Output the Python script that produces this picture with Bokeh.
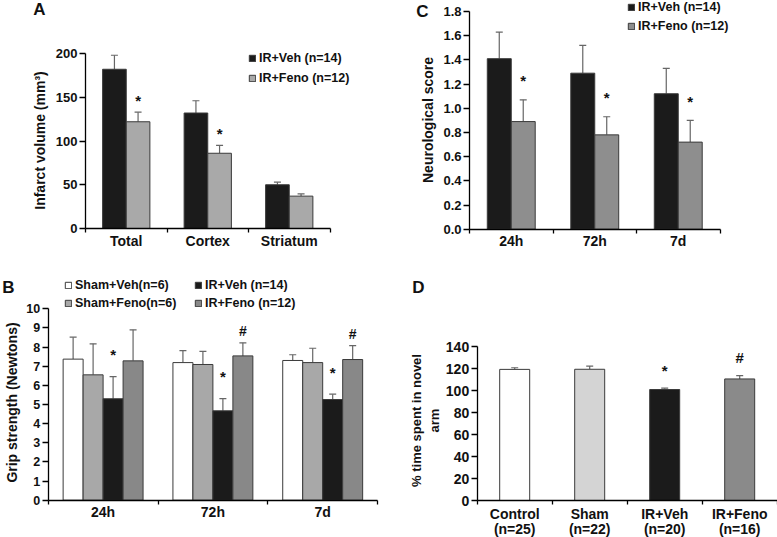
import math
import numpy as np
from bokeh.plotting import figure
from bokeh.models import (Range1d, FixedTicker, Whisker, TeeHead, ColumnDataSource,
                          Legend, LegendItem, Label, NumeralTickFormatter)
from bokeh.layouts import row, column
from bokeh.embed import file_html
from bokeh.resources import INLINE
from bokeh.core.properties import value

FONT = "Liberation Sans"
INK = "#111111"
EDGE = "#3a3a3a"
ERR = "#666666"

# ---------------- data ----------------
# Panel A : infarct volume
a_cats = ["Total", "Cortex", "Striatum"]
a_yticks = [0, 50, 100, 150, 200]
a_veh = [182, 132, 50]
a_veh_err = [16, 14, 3]
a_feno = [122, 86, 37]
a_feno_err = [11, 9, 2.5]
a_feno_sig = ["*", "*", ""]

# Panel C : neurological score
c_cats = ["24h", "72h", "7d"]
c_yticks = [0.0, 0.2, 0.4, 0.6, 0.8, 1.0, 1.2, 1.4, 1.6, 1.8]
c_veh = [1.41, 1.29, 1.12]
c_veh_err = [0.22, 0.23, 0.21]
c_feno = [0.89, 0.78, 0.72]
c_feno_err = [0.18, 0.15, 0.18]
c_feno_sig = ["*", "*", "*"]

# Panel B : grip strength
b_cats = ["24h", "72h", "7d"]
b_yticks = [0, 1, 2, 3, 4, 5, 6, 7, 8, 9, 10]
b_sham_veh = [7.37, 7.19, 7.30]
b_sham_veh_err = [1.15, 0.63, 0.30]
b_sham_feno = [6.55, 7.09, 7.19]
b_sham_feno_err = [1.62, 0.69, 0.75]
b_ir_veh = [5.30, 4.67, 5.26]
b_ir_veh_err = [1.16, 0.64, 0.28]
b_ir_feno = [7.28, 7.54, 7.35]
b_ir_feno_err = [1.62, 0.68, 0.73]
b_ir_veh_sig = ["*", "*", "*"]
b_ir_feno_sig = ["", "#", "#"]

# Panel D : % time in novel arm
d_cats = ["Control\n(n=25)", "Sham\n(n=22)", "IR+Veh\n(n=20)", "IR+Feno\n(n=16)"]
d_yticks = [0, 20, 40, 60, 80, 100, 120, 140]
d_vals = [119.2, 119.3, 100.9, 110.5]
d_err = [1.5, 2.9, 1.2, 3.0]
d_sig = ["", "", "*", "#"]
d_colors = ["#ffffff", "#d4d4d4", "#1b1b1b", "#8a8a8a"]


# ---------------- helpers ----------------
def make_fig(w, h, x0, xppu, y0, yppu):
    """x0: pixel of x=0 from the left, y0: pixel of y=0 from the top."""
    xr = Range1d(-x0 / xppu, (w - x0) / xppu)
    yb = h - y0
    yr = Range1d(-yb / yppu, (h - yb) / yppu)
    p = figure(width=w, height=h, x_range=xr, y_range=yr,
               output_backend="svg", toolbar_location=None,
               min_border_left=0, min_border_right=0, min_border_top=0, min_border_bottom=0)
    p.title.visible = False
    p.grid.visible = False
    p.outline_line_color = None
    p.background_fill_color = "white"
    p.border_fill_color = "white"
    return p


def add_bars(p, xs, vals, errs, width, color):
    src = ColumnDataSource(dict(x=list(xs), top=list(vals),
                                upper=[v + e for v, e in zip(vals, errs)]))
    r = p.vbar(x="x", top="top", bottom=0, width=width, source=src,
               fill_color=color, line_color=EDGE, line_width=1)
    w = Whisker(base="x", lower="top", upper="upper", source=src, dimension="height",
                line_color=ERR, line_width=1.2, lower_head=None,
                upper_head=TeeHead(size=7, line_color=ERR, line_width=1.2))
    p.add_layout(w)
    return r


def add_sig(p, xs, vals, errs, marks, y_off, size="15px"):
    src = ColumnDataSource(dict(x=list(xs), y=[v + e for v, e in zip(vals, errs)], t=marks))
    p.text(x="x", y="y", text="t", source=src, text_align="center",
           text_baseline="alphabetic", y_offset=y_off, text_font=value(FONT),
           text_font_style="bold", text_font_size=size, text_color=INK)


def style_axes(p, cats, n_slots, yticks, tick_size, cat_size, x_standoff, fmt=None,
               line_height=1.2):
    centers = np.arange(len(cats)) + 0.5
    xa = p.xaxis[0]
    xa.fixed_location = 0
    xa.ticker = FixedTicker(ticks=[float(c) for c in centers],
                            minor_ticks=[float(i) for i in range(n_slots + 1)])
    xa.major_label_overrides = {float(c): lab for c, lab in zip(centers, cats)}
    xa.major_tick_line_color = None
    xa.major_tick_in = 0
    xa.major_tick_out = 0
    xa.minor_tick_in = 0
    xa.minor_tick_out = 4
    xa.minor_tick_line_color = "black"
    xa.minor_tick_line_width = 1.3
    xa.bounds = (0, n_slots)
    xa.major_label_standoff = x_standoff
    xa.major_label_text_font_size = cat_size
    xa.major_label_text_line_height = line_height
    ya = p.yaxis[0]
    ya.fixed_location = 0
    ya.ticker = FixedTicker(ticks=yticks)
    ya.bounds = (yticks[0], yticks[-1])
    ya.major_tick_in = 0
    ya.major_tick_out = 6
    ya.minor_tick_line_color = None
    ya.major_tick_line_color = "black"
    ya.major_tick_line_width = 1.3
    ya.major_label_standoff = 2
    ya.major_label_text_font_size = tick_size
    if fmt:
        ya.formatter = NumeralTickFormatter(format=fmt)
    for ax in (xa, ya):
        ax.axis_line_color = "black"
        ax.axis_line_width = 1.3
        ax.major_label_text_font = FONT
        ax.major_label_text_font_style = "bold"
        ax.major_label_text_color = INK


def add_legend(p, items, loc, spacing):
    leg = Legend(items=[LegendItem(label=lab, renderers=[r]) for lab, r in items],
                 location=loc, orientation="vertical", border_line_color=None,
                 background_fill_alpha=0, padding=0, margin=0, spacing=spacing,
                 glyph_width=8, glyph_height=8, label_standoff=3, label_height=16,
                 label_text_font=FONT, label_text_font_style="bold",
                 label_text_font_size="12.5px", label_text_color=INK)
    p.add_layout(leg)


def screen_text(p, txt, x, y, size, angle=0.0):
    p.add_layout(Label(x=x, y=y, x_units="screen", y_units="screen", text=txt, angle=angle,
                       text_font=FONT, text_font_style="bold", text_font_size=size,
                       text_color=INK, text_align="center", text_baseline="middle",
                       text_line_height=1.15))


VERT = math.pi / 2

# ---------------- Panel A ----------------
pA = make_fig(390, 256, 85, 81.5, 228, 0.875)
cA = np.arange(len(a_cats)) + 0.5
bwA = 0.29
rA1 = add_bars(pA, cA - bwA / 2, a_veh, a_veh_err, bwA, "#1b1b1b")
rA2 = add_bars(pA, cA + bwA / 2, a_feno, a_feno_err, bwA, "#a9a9a9")
add_sig(pA, cA + bwA / 2, a_feno, a_feno_err, a_feno_sig, -12)
style_axes(pA, a_cats, 3, a_yticks, "13px", "14px", 0)
add_legend(pA, [("IR+Veh (n=14)", rA1), ("IR+Feno (n=12)", rA2)], (248, 170), 4)
screen_text(pA, "A", 39, 247, "17px")
screen_text(pA, "Infarct volume (mm³)", 39, 116, "14px", VERT)

# ---------------- Panel C ----------------
pC = make_fig(387, 256, 79, 83.5, 228.7, 120.94)
cC = np.arange(len(c_cats)) + 0.5
bwC = 0.287
rC1 = add_bars(pC, cC - bwC / 2, c_veh, c_veh_err, bwC, "#1b1b1b")
rC2 = add_bars(pC, cC + bwC / 2, c_feno, c_feno_err, bwC, "#8e8e8e")
add_sig(pC, cC + bwC / 2, c_feno, c_feno_err, c_feno_sig, -19)
style_axes(pC, c_cats, 3, c_yticks, "13px", "14px", 0, fmt="0.0")
add_legend(pC, [("IR+Veh (n=14)", rC1), ("IR+Feno (n=12)", rC2)], (237, 222), 3)
screen_text(pC, "C", 32, 245, "17px")
screen_text(pC, "Neurological score", 37, 136.5, "14px", VERT)

# ---------------- Panel B ----------------
pB = make_fig(390, 281, 47.7, 109.8, 243.7, 19.14)
cB = np.arange(len(b_cats)) + 0.5
bwB = 0.182
offs = (np.arange(4) - 1.5) * bwB
rB1 = add_bars(pB, cB + offs[0], b_sham_veh, b_sham_veh_err, bwB, "#ffffff")
rB2 = add_bars(pB, cB + offs[1], b_sham_feno, b_sham_feno_err, bwB, "#a8a8a8")
rB3 = add_bars(pB, cB + offs[2], b_ir_veh, b_ir_veh_err, bwB, "#1b1b1b")
rB4 = add_bars(pB, cB + offs[3], b_ir_feno, b_ir_feno_err, bwB, "#888888")
add_sig(pB, cB + offs[2], b_ir_veh, b_ir_veh_err, b_ir_veh_sig, -22)
add_sig(pB, cB + offs[3], b_ir_feno, b_ir_feno_err, b_ir_feno_sig, -12, "14px")
style_axes(pB, b_cats, 3, b_yticks, "12.5px", "14px", 0)
add_legend(pB, [("Sham+Veh(n=6)", rB1), ("Sham+Feno(n=6)", rB2)], (64, 226), 2)
add_legend(pB, [("IR+Veh (n=14)", rB3), ("IR+Feno (n=12)", rB4)], (194, 226), 2)
screen_text(pB, "B", 8, 250, "17px")
screen_text(pB, "Grip strength (Newtons)", 11, 135, "14px", VERT)

# ---------------- Panel D ----------------
pD = make_fig(387, 281, 86.7, 75.0, 244, 1.1)
cD = np.arange(len(d_cats)) + 0.5
srcD = ColumnDataSource(dict(x=list(cD), top=d_vals, color=d_colors,
                             upper=[v + e for v, e in zip(d_vals, d_err)]))
pD.vbar(x="x", top="top", bottom=0, width=0.4, source=srcD, fill_color="color",
        line_color=EDGE, line_width=1)
pD.add_layout(Whisker(base="x", lower="top", upper="upper", source=srcD, dimension="height",
                      line_color=ERR, line_width=1.2, lower_head=None,
                      upper_head=TeeHead(size=7, line_color=ERR, line_width=1.2)))
add_sig(pD, cD, d_vals, d_err, d_sig, -18)
style_axes(pD, d_cats, 4, d_yticks, "14px", "14px", 1, line_height=0.95)
screen_text(pD, "D", 28, 250, "17px")
screen_text(pD, "% time spent in novel\narm", 35, 117, "13px", VERT)

layout = column(row(pA, pC), row(pB, pD))
open("out.html", "w").write(file_html(layout, INLINE))
